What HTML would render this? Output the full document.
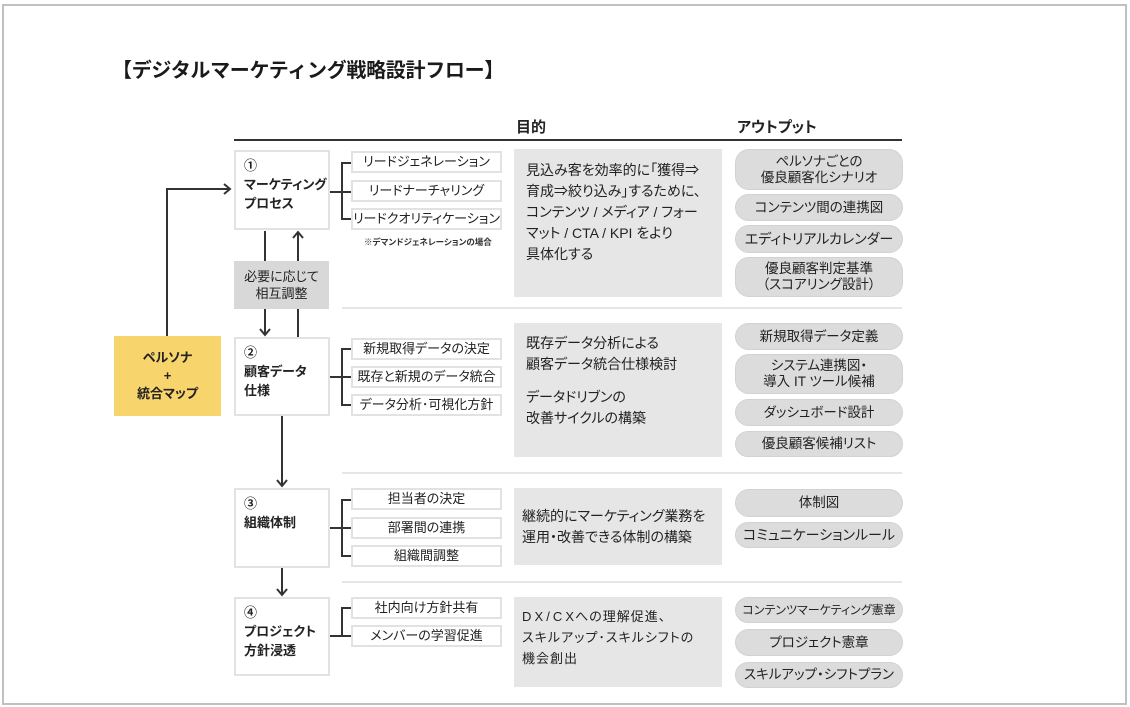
<!DOCTYPE html>
<html><head><meta charset="utf-8">
<style>
*{margin:0;padding:0;box-sizing:border-box}
body{width:1130px;height:707px;position:relative;overflow:hidden;background:#fff;font-family:"Liberation Sans","Noto Sans CJK JP",sans-serif;color:#222;font-feature-settings:"palt"}
.a{position:absolute}
.frame{left:2px;top:4px;width:1125px;height:701px;border:2px solid #c0c0c0}
.title{left:112px;top:59px;font-size:20px;font-weight:bold;line-height:24px;white-space:nowrap;font-feature-settings:normal;color:#1a1a1a;letter-spacing:-0.3px}
.hd{font-size:15px;font-weight:bold;line-height:18px;top:119px;white-space:nowrap}
.mb{left:234px;width:96px;border:2px solid #e2e2e2;background:#fff;padding:4px 0 0 8px;font-size:13px;font-weight:bold;line-height:19px;white-space:nowrap}
.sb{left:351px;width:151px;height:22px;border:2px solid #e2e2e2;background:#fff;text-align:center;font-size:13px;line-height:18px;white-space:nowrap}
.pb{left:514px;width:208px;background:#e6e6e6;font-size:14px;line-height:21px;white-space:nowrap;padding-left:12px}
.pl{left:735px;width:168px;background:#dcdcdc;border:1px solid #d2d2d2;border-radius:14px;text-align:center;font-size:13.5px;white-space:nowrap;display:flex;align-items:center;justify-content:center;line-height:16px}
.sep{left:342px;width:560px;height:2px;background:#e6e6e6}
</style></head><body>
<div class="a frame"></div>
<div class="a title">【デジタルマーケティング戦略設計フロー】</div>
<div class="a hd" style="left:516px">目的</div>
<div class="a hd" style="left:737px">アウトプット</div>
<div class="a" style="left:234px;top:139px;width:668px;height:2px;background:#333"></div>

<div class="a sep" style="top:307px"></div>
<div class="a sep" style="top:472px"></div>
<div class="a sep" style="top:581px"></div>

<!-- persona -->
<div class="a" style="left:114px;top:336px;width:107px;height:80px;background:#f7d46c;font-size:13px;font-weight:bold;line-height:18px;text-align:center;padding-top:13px">ペルソナ<br>+<br>統合マップ</div>

<!-- adjustment box -->
<div class="a" style="left:234px;top:261px;width:95px;height:48px;background:#d8d8d8;font-size:13px;line-height:17px;text-align:center;padding-top:7px">必要に応じて<br>相互調整</div>

<!-- main boxes -->
<div class="a mb" style="top:150px;height:80px">①<br>マーケティング<br>プロセス</div>
<div class="a mb" style="top:337px;height:79px">②<br>顧客データ<br>仕様</div>
<div class="a mb" style="top:488px;height:80px">③<br>組織体制</div>
<div class="a mb" style="top:597px;height:79px">④<br>プロジェクト<br>方針浸透</div>

<!-- sub boxes -->
<div class="a sb" style="top:151px">リードジェネレーション</div>
<div class="a sb" style="top:180px">リードナーチャリング</div>
<div class="a sb" style="top:208px">リードクオリティケーション</div>
<div class="a" style="left:364px;top:236px;font-size:8.5px;font-weight:bold;line-height:12px;white-space:nowrap;color:#333">※デマンドジェネレーションの場合</div>

<div class="a sb" style="top:338px">新規取得データの決定</div>
<div class="a sb" style="top:366px">既存と新規のデータ統合</div>
<div class="a sb" style="top:394px">データ分析･可視化方針</div>

<div class="a sb" style="top:488px">担当者の決定</div>
<div class="a sb" style="top:517px">部署間の連携</div>
<div class="a sb" style="top:545px">組織間調整</div>

<div class="a sb" style="top:597px">社内向け方針共有</div>
<div class="a sb" style="top:625px">メンバーの学習促進</div>

<!-- purpose boxes -->
<div class="a pb" style="top:149px;height:148px;padding-top:11px">見込み客を効率的に「獲得⇒<br>育成⇒絞り込み」するために、<br>コンテンツ / メディア / フォー<br>マット / CTA / KPI をより<br>具体化する</div>
<div class="a pb" style="top:323px;height:134px;padding-top:10px">既存データ分析による<br>顧客データ統合仕様検討<div style="height:12px"></div>データドリブンの<br>改善サイクルの構築</div>
<div class="a pb" style="top:488px;height:77px;padding-top:18px;padding-left:8px">継続的にマーケティング業務を<br>運用・改善できる体制の構築</div>
<div class="a pb" style="top:597px;height:90px;padding-top:9px;padding-left:8px;font-size:13px;letter-spacing:1px">D&#8202;X&#8202;/&#8202;C&#8202;Xへの理解促進、<br>スキルアップ･スキルシフトの<br>機会創出</div>

<!-- pills -->
<div class="a pl" style="top:149px;height:41px">ペルソナごとの<br>優良顧客化シナリオ</div>
<div class="a pl" style="top:194px;height:27px">コンテンツ間の連携図</div>
<div class="a pl" style="top:225px;height:28px;font-size:14px">エディトリアルカレンダー</div>
<div class="a pl" style="top:257px;height:40px">優良顧客判定基準<br>（スコアリング設計）</div>

<div class="a pl" style="top:323px;height:27px">新規取得データ定義</div>
<div class="a pl" style="top:354px;height:40px">システム連携図・<br>導入 IT ツール候補</div>
<div class="a pl" style="top:399px;height:27px">ダッシュボード設計</div>
<div class="a pl" style="top:431px;height:26px">優良顧客候補リスト</div>

<div class="a pl" style="top:489px;height:28px">体制図</div>
<div class="a pl" style="top:522px;height:26px;font-size:14px">コミュニケーションルール</div>

<div class="a pl" style="top:597px;height:26px;font-size:12px">コンテンツマーケティング憲章</div>
<div class="a pl" style="top:629px;height:27px">プロジェクト憲章</div>
<div class="a pl" style="top:662px;height:26px">スキルアップ・シフトプラン</div>

<svg class="a" style="left:0;top:0" width="1130" height="707" viewBox="0 0 1130 707">
<g fill="none" stroke="#333" stroke-width="2">
<path d="M167 336 V189 H229"/>
<path d="M224 184 L230 189 L224 194"/>
<path d="M265 231 V261"/>
<path d="M265 309 V334"/>
<path d="M260 329 L265 335 L270 329"/>
<path d="M298 261 V233"/>
<path d="M293 238 L298 232 L303 238"/>
<path d="M298 309 V337"/>
<path d="M282 416 V485"/>
<path d="M277 480 L282 486 L287 480"/>
<path d="M282 568 V594"/>
<path d="M277 589 L282 595 L287 589"/>
<path d="M330 192 H351"/>
<path d="M351 163 H342 V219 H351"/>
<path d="M330 377 H351"/>
<path d="M351 349 H342 V405 H351"/>
<path d="M330 528 H351"/>
<path d="M351 500 H342 V556 H351"/>
<path d="M330 636 H351"/>
<path d="M351 608 H342 V636"/>
</g>
</svg>
</body></html>
